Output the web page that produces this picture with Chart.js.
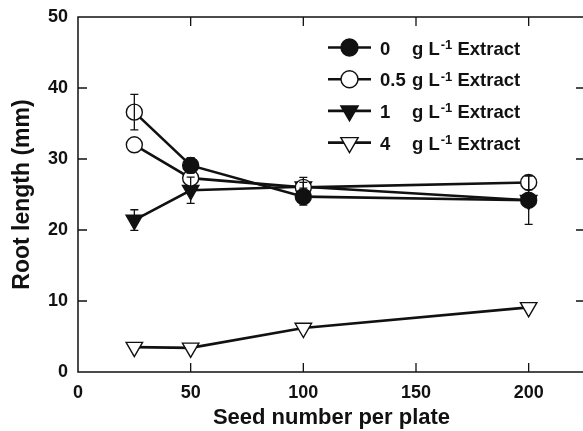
<!DOCTYPE html>
<html>
<head>
<meta charset="utf-8">
<script src="https://cdn.jsdelivr.net/npm/chart.js@4/dist/chart.umd.min.js"></script>
<style>
  html, body { margin: 0; padding: 0; background: #fff; }
  #wrap { width: 583px; height: 431px; overflow: hidden; }
</style>
</head>
<body>
<div id="wrap"><canvas id="chart" width="590" height="431"></canvas></div>
<script>
const seedNumbers = [25, 50, 100, 200];

// mean root length (mm) for each extract concentration
const root0 = [36.6, 29.1, 24.7, 24.2];
const root05 = [32.0, 27.3, 26.0, 26.7];
const root1 = [21.4, 25.6, 26.1, 24.2];
const root4 = [3.5, 3.4, 6.2, 9.1];

// standard errors (0 = smaller than the marker, not drawn)
const err0 = [2.5, 1.1, 1.2, 3.4];
const err05 = [0, 0, 0.7, 1.0];
const err1 = [1.45, 1.85, 1.3, 0.6];
const err4 = [0, 0, 0, 0];

const concentrations = ['0', '0.5', '1', '4'];
const xTicks = [0, 50, 100, 150, 200];
const yTicks = [0, 10, 20, 30, 40, 50];

const INK = '#111';
const FONT = '"Liberation Sans", Arial, sans-serif';

const styles = [
  { pointStyle: 'circle', fill: INK, radius: 8, rotation: 0 },
  { pointStyle: 'circle', fill: '#fff', radius: 8, rotation: 0 },
  { pointStyle: 'triangle', fill: INK, radius: 9.5, rotation: 180 },
  { pointStyle: 'triangle', fill: '#fff', radius: 9.5, rotation: 180 },
];
const series = [root0, root05, root1, root4];
const errors = [err0, err05, err1, err4];

const datasets = series.map((vals, k) => {
  const fills = vals.map(() => styles[k].fill);
  // the first 0 g point sits under an open marker in the original plot
  if (k === 0) fills[0] = '#fff';
  return {
    label: concentrations[k] + ' g L-1 Extract',
    data: vals.map((v, i) => ({ x: seedNumbers[i], y: v })),
    borderColor: INK,
    borderWidth: 2.6,
    tension: 0,
    pointStyle: styles[k].pointStyle,
    pointRotation: styles[k].rotation,
    pointRadius: styles[k].radius,
    pointBackgroundColor: fills,
    pointBorderColor: INK,
    pointBorderWidth: 1.4,
  };
});

function drawMarker(ctx, style, fill, x, y, r) {
  ctx.beginPath();
  if (style === 'circle') {
    ctx.arc(x, y, r, 0, Math.PI * 2);
  } else {
    ctx.moveTo(x, y + r);
    ctx.lineTo(x - r * Math.sin(Math.PI / 3), y - r / 2);
    ctx.lineTo(x + r * Math.sin(Math.PI / 3), y - r / 2);
    ctx.closePath();
  }
  ctx.fillStyle = fill;
  ctx.fill();
  ctx.lineWidth = 1.4;
  ctx.strokeStyle = INK;
  ctx.stroke();
}

// box frame with inward ticks on all four sides
const framePlugin = {
  id: 'frame',
  beforeDatasetsDraw(chart) {
    const { ctx, chartArea: a, scales: { x, y } } = chart;
    ctx.save();
    ctx.strokeStyle = INK;
    ctx.lineWidth = 1.5;
    ctx.strokeRect(a.left, a.top, a.right - a.left, a.bottom - a.top);
    ctx.lineWidth = 1.3;
    ctx.beginPath();
    xTicks.slice(1).forEach(v => {
      const px = x.getPixelForValue(v);
      ctx.moveTo(px, a.bottom); ctx.lineTo(px, a.bottom - 9);
      ctx.moveTo(px, a.top); ctx.lineTo(px, a.top + 9);
    });
    yTicks.slice(1, -1).forEach(v => {
      const py = y.getPixelForValue(v);
      ctx.moveTo(a.left, py); ctx.lineTo(a.left + 9, py);
      ctx.moveTo(a.right, py); ctx.lineTo(a.right - 9, py);
    });
    ctx.stroke();
    ctx.restore();
  },
};

const errorBarPlugin = {
  id: 'errorBars',
  afterDatasetsDraw(chart) {
    const { ctx, scales: { x, y } } = chart;
    ctx.save();
    ctx.strokeStyle = INK;
    ctx.lineWidth = 1.3;
    series.forEach((vals, k) => {
      vals.forEach((v, i) => {
        if (!errors[k][i]) return;
        const px = x.getPixelForValue(seedNumbers[i]);
        const top = y.getPixelForValue(v + errors[k][i]);
        const bot = y.getPixelForValue(v - errors[k][i]);
        ctx.beginPath();
        ctx.moveTo(px, top); ctx.lineTo(px, bot);
        ctx.moveTo(px - 4, top); ctx.lineTo(px + 4, top);
        ctx.moveTo(px - 4, bot); ctx.lineTo(px + 4, bot);
        ctx.stroke();
      });
    });
    ctx.restore();
  },
};

const legendPlugin = {
  id: 'customLegend',
  afterDraw(chart) {
    const { ctx } = chart;
    ctx.save();
    ctx.textBaseline = 'alphabetic';
    concentrations.forEach((c, k) => {
      const cy = 47.5 + k * 31.7;
      ctx.strokeStyle = INK;
      ctx.lineWidth = 2.6;
      ctx.beginPath();
      ctx.moveTo(328, cy); ctx.lineTo(371, cy);
      ctx.stroke();
      drawMarker(ctx, styles[k].pointStyle, styles[k].fill, 349.5, cy, styles[k].radius + 0.5);

      const base = cy + 7;
      ctx.fillStyle = INK;
      ctx.font = 'bold 18.5px ' + FONT;
      ctx.fillText(c, 380, base);
      let tx = 412;
      ctx.fillText('g L', tx, base);
      tx += ctx.measureText('g L').width + 1;
      ctx.font = 'bold 13px ' + FONT;
      ctx.fillText('-1', tx, base - 5.5);
      tx += ctx.measureText('-1').width;
      ctx.font = 'bold 18.5px ' + FONT;
      ctx.fillText(' Extract', tx, base);
    });
    ctx.restore();
  },
};

const tickFont = { family: FONT, size: 18, weight: 'bold' };

new Chart(document.getElementById('chart'), {
  type: 'line',
  data: { datasets },
  options: {
    responsive: false,
    animation: false,
    layout: { autoPadding: false, padding: { top: 17, right: 5, left: 0, bottom: 0 } },
    plugins: { legend: { display: false }, tooltip: { enabled: false } },
    scales: {
      x: {
        type: 'linear',
        min: 0,
        max: 225,
        grid: { display: false, drawTicks: false },
        border: { display: false },
        ticks: { stepSize: 50, includeBounds: false, padding: 10, color: INK, font: tickFont, maxRotation: 0 },
        title: { display: true, text: 'Seed number per plate', color: INK, font: { family: FONT, size: 22, weight: 'bold' }, padding: { top: 0, bottom: 0 } },
        afterFit(scale) {
          scale.height = 59;
          scale.paddingLeft = 0;
          scale.paddingRight = 0;
        },
      },
      y: {
        min: 0,
        max: 50,
        grid: { display: false, drawTicks: false },
        border: { display: false },
        ticks: { stepSize: 10, padding: 10, color: INK, font: tickFont },
        title: { display: true, text: 'Root length (mm)', color: INK, font: { family: FONT, size: 23, weight: 'bold' }, padding: { top: 9, bottom: 0 } },
        afterFit(scale) {
          scale.width = 78;
          scale.paddingTop = 0;
          scale.paddingBottom = 0;
        },
      },
    },
  },
  plugins: [framePlugin, errorBarPlugin, legendPlugin],
});
</script>
</body>
</html>
